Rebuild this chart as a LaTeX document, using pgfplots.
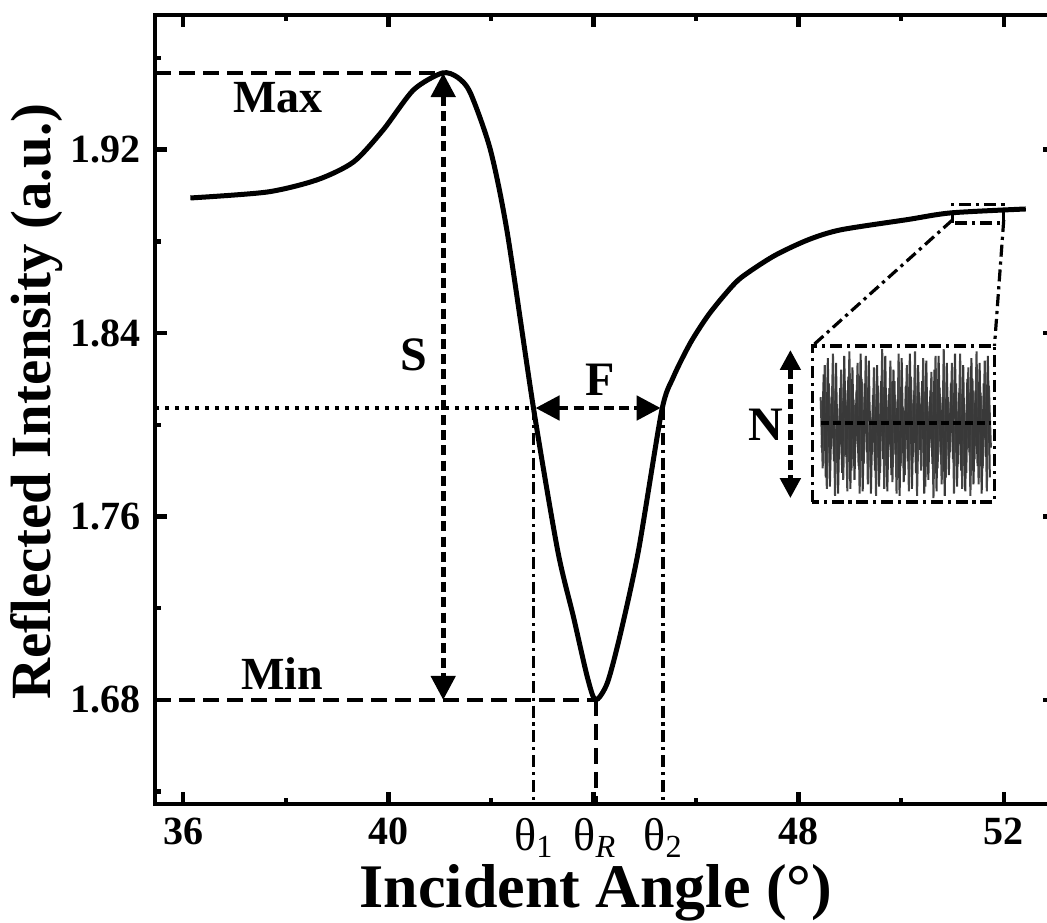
\documentclass[border=0pt]{standalone}
\usepackage{fontspec}
\setmainfont{Liberation Serif}
\usepackage{pgfplots}
\pgfplotsset{compat=1.18}
\usetikzlibrary{arrows.meta}
\begin{document}
\begin{tikzpicture}
\begin{axis}[
  scale only axis, width=225pt, height=197.25pt,
  xmin=35.45, xmax=53.0, ymin=1.6346, ymax=1.9787,
  axis line style={line width=1.2pt},
  tick align=inside, tick style={line width=1.1pt, black},
  major tick length=3pt, minor tick length=1.5pt,
  xtick={36,40,44,48,52}, xticklabels={36,40,,48,52},
  minor xtick={38,42,46,50},
  ytick={1.68,1.76,1.84,1.92}, minor ytick={1.64,1.72,1.80,1.88,1.96},
  yticklabel style={/pgf/number format/.cd, fixed, fixed zerofill, precision=2},
  /pgf/number format/assume math mode=true,
  ticklabel style={font=\fontsize{10}{12}\selectfont\bfseries},
  extra x ticks={42.85,44.04,45.37},
  extra x tick labels={θ\textsubscript{1}, θ\textsubscript{\textit{R}}, θ\textsubscript{2}},
  extra x tick style={major tick length=0pt, tick label style={font=\fontsize{11.5}{12}\selectfont, inner xsep=0pt}},
  xlabel={Incident Angle (°)}, ylabel={Reflected Intensity (a.u.)},
  xlabel style={font=\fontsize{15.5}{18}\selectfont\bfseries, at={(axis description cs:0.49,-0.113)}, anchor=center},
  ylabel style={font=\fontsize{14.2}{18}\selectfont\bfseries, at={(axis description cs:-0.131,0.51)}, anchor=center, rotate=0},
  clip=false,
]
% main curve
\addplot[black, line width=1.25pt, smooth, tension=0.45] coordinates {
(36.14,1.8989)(37.64,1.9015)(38.61,1.9068)(39.32,1.9146)(39.90,1.9286)
(40.49,1.9460)(41.05,1.9534)(41.35,1.9515)(41.60,1.9447)(41.99,1.9199)
(42.32,1.8837)(42.83,1.8073)(43.30,1.7454)(43.61,1.7162)(43.88,1.6900)
(44.04,1.6800)(44.27,1.6874)(44.53,1.7092)(44.88,1.7454)(45.33,1.8060)
(45.56,1.8209)(45.89,1.8357)(46.22,1.8472)(46.54,1.8562)(46.87,1.8640)
(47.51,1.8735)(48.18,1.8806)(48.82,1.8850)(50.13,1.8895)(50.97,1.8924)
(52.43,1.8941)
};
% noise in inset
\addplot[gray!55!black, line width=0.5pt] coordinates {
(48.43,1.812)(48.47,1.781)(48.51,1.826)(48.55,1.772)(48.59,1.818)(48.63,1.790)
(48.67,1.831)(48.71,1.769)(48.75,1.809)(48.79,1.785)(48.83,1.824)(48.87,1.776)
(48.91,1.815)(48.95,1.771)(48.99,1.832)(49.03,1.780)(49.07,1.811)(49.11,1.793)
(49.15,1.827)(49.19,1.770)(49.23,1.820)(49.27,1.783)(49.31,1.830)(49.35,1.774)
(49.39,1.806)(49.43,1.787)(49.47,1.825)(49.51,1.769)(49.55,1.817)(49.59,1.779)
(49.63,1.833)(49.67,1.772)(49.71,1.813)(49.75,1.789)(49.79,1.828)(49.83,1.775)
(49.87,1.819)(49.91,1.770)(49.95,1.831)(49.99,1.782)(50.03,1.808)(50.07,1.778)
(50.11,1.826)(50.15,1.771)(50.19,1.821)(50.23,1.786)(50.27,1.832)(50.31,1.769)
(50.35,1.814)(50.39,1.780)(50.43,1.829)(50.47,1.773)(50.51,1.810)(50.55,1.790)
(50.59,1.823)(50.63,1.768)(50.67,1.830)(50.71,1.781)(50.75,1.816)(50.79,1.774)
(50.83,1.833)(50.87,1.777)(50.91,1.812)(50.95,1.788)(50.99,1.827)(51.03,1.770)
(51.07,1.818)(51.11,1.783)(51.15,1.831)(51.19,1.772)(51.23,1.809)(51.27,1.779)
(51.31,1.825)(51.35,1.769)(51.39,1.820)(51.43,1.785)(51.47,1.832)(51.51,1.774)
(51.55,1.814)(51.59,1.781)(51.63,1.828)(51.67,1.771)(51.71,1.817)(51.75,1.790)
};
\addplot[gray!45!black, line width=0.5pt] coordinates {
(48.45,1.790)(48.49,1.822)(48.53,1.777)(48.57,1.829)(48.61,1.773)(48.65,1.812)
(48.69,1.784)(48.73,1.827)(48.77,1.770)(48.81,1.816)(48.85,1.779)(48.89,1.830)
(48.93,1.786)(48.97,1.821)(49.01,1.772)(49.05,1.825)(49.09,1.776)(49.13,1.815)
(49.17,1.782)(49.21,1.831)(49.25,1.771)(49.29,1.818)(49.33,1.788)(49.37,1.828)
(49.41,1.770)(49.45,1.813)(49.49,1.780)(49.53,1.826)(49.57,1.773)(49.61,1.819)
(49.65,1.785)(49.69,1.830)(49.73,1.771)(49.77,1.816)(49.81,1.778)(49.85,1.824)
(49.89,1.787)(49.93,1.811)(49.97,1.769)(50.01,1.829)(50.05,1.775)(50.09,1.817)
(50.13,1.784)(50.17,1.831)(50.21,1.772)(50.25,1.813)(50.29,1.779)(50.33,1.826)
(50.37,1.789)(50.41,1.819)(50.45,1.770)(50.49,1.828)(50.53,1.776)(50.57,1.815)
(50.61,1.783)(50.65,1.824)(50.69,1.771)(50.73,1.830)(50.77,1.787)(50.81,1.812)
(50.85,1.769)(50.89,1.827)(50.93,1.778)(50.97,1.818)(51.01,1.785)(51.05,1.831)
(51.09,1.773)(51.13,1.814)(51.17,1.780)(51.21,1.826)(51.25,1.771)(51.29,1.820)
(51.33,1.788)(51.37,1.829)(51.41,1.774)(51.45,1.815)(51.49,1.782)(51.53,1.827)
(51.57,1.770)(51.61,1.818)(51.65,1.786)(51.69,1.830)(51.73,1.777)
};
% guide lines
\draw[black, line width=1pt, dash pattern=on 4pt off 2pt] (35.45,1.9534) -- (41.05,1.9534);
\draw[black, line width=1pt, dash pattern=on 4pt off 2pt] (35.45,1.68) -- (44.04,1.68);
\draw[black, line width=1pt, dash pattern=on 1pt off 1.5pt] (35.45,1.8073) -- (42.83,1.8073);
\draw[black, line width=0.9pt, dash pattern=on 3pt off 1.2pt on 0.8pt off 1.2pt] (42.83,1.8073) -- (42.83,1.6346);
\draw[black, line width=0.9pt, dash pattern=on 3pt off 1.2pt on 0.8pt off 1.2pt] (45.35,1.8073) -- (45.35,1.6346);
\draw[black, line width=1pt, dash pattern=on 4pt off 2pt] (44.04,1.68) -- (44.04,1.6346);
% S arrow
\draw[black, line width=1.2pt, dash pattern=on 2.5pt off 1.3pt, {Triangle[length=6pt,width=6pt]}-{Triangle[length=6pt,width=6pt]}] (41.07,1.9534) -- (41.07,1.68);
% F arrow
\draw[black, line width=1.2pt, dash pattern=on 2.5pt off 1.3pt, {Triangle[length=6pt,width=6pt]}-{Triangle[length=6pt,width=6pt]}] (42.87,1.8073) -- (45.31,1.8073);
% N arrow
\draw[black, line width=1.2pt, dash pattern=on 2.5pt off 1.3pt, {Triangle[length=5pt,width=5pt]}-{Triangle[length=5pt,width=5pt]}] (47.84,1.8326) -- (47.84,1.768);
% inset boxes
\draw[black, line width=0.9pt, dash pattern=on 3pt off 1.2pt on 0.8pt off 1.2pt] (48.27,1.7664) rectangle (51.82,1.8344);
\draw[black, line width=0.8pt, dash pattern=on 3pt off 1.2pt on 0.8pt off 1.2pt] (51.0,1.888) rectangle (52.0,1.8959);
\draw[black, line width=0.8pt, dash pattern=on 3pt off 1.2pt on 0.8pt off 1.2pt] (51.0,1.8893) -- (48.27,1.8344);
\draw[black, line width=0.8pt, dash pattern=on 3pt off 1.2pt on 0.8pt off 1.2pt] (52.0,1.8893) -- (51.82,1.8344);
\draw[black, line width=0.8pt, dash pattern=on 2pt off 1pt] (48.43,1.8008) -- (51.75,1.8008);
% labels
\node[font=\fontsize{11.5}{12}\selectfont\bfseries] at (37.85,1.9425) {Max};
\node[font=\fontsize{11.5}{12}\selectfont\bfseries] at (37.93,1.6915) {Min};
\node[font=\fontsize{12}{12}\selectfont\bfseries] at (40.49,1.8305) {S};
\node[font=\fontsize{12}{12}\selectfont\bfseries] at (44.14,1.8196) {F};
\node[font=\fontsize{12}{12}\selectfont\bfseries] at (47.36,1.8000) {N};
\end{axis}
\pgfresetboundingbox
\path[use as bounding box] ([xshift=-38.75pt,yshift=-29.5pt]current axis.south west) rectangle ([xshift=-2pt,yshift=3.75pt]current axis.north east);
\end{tikzpicture}
\end{document}
